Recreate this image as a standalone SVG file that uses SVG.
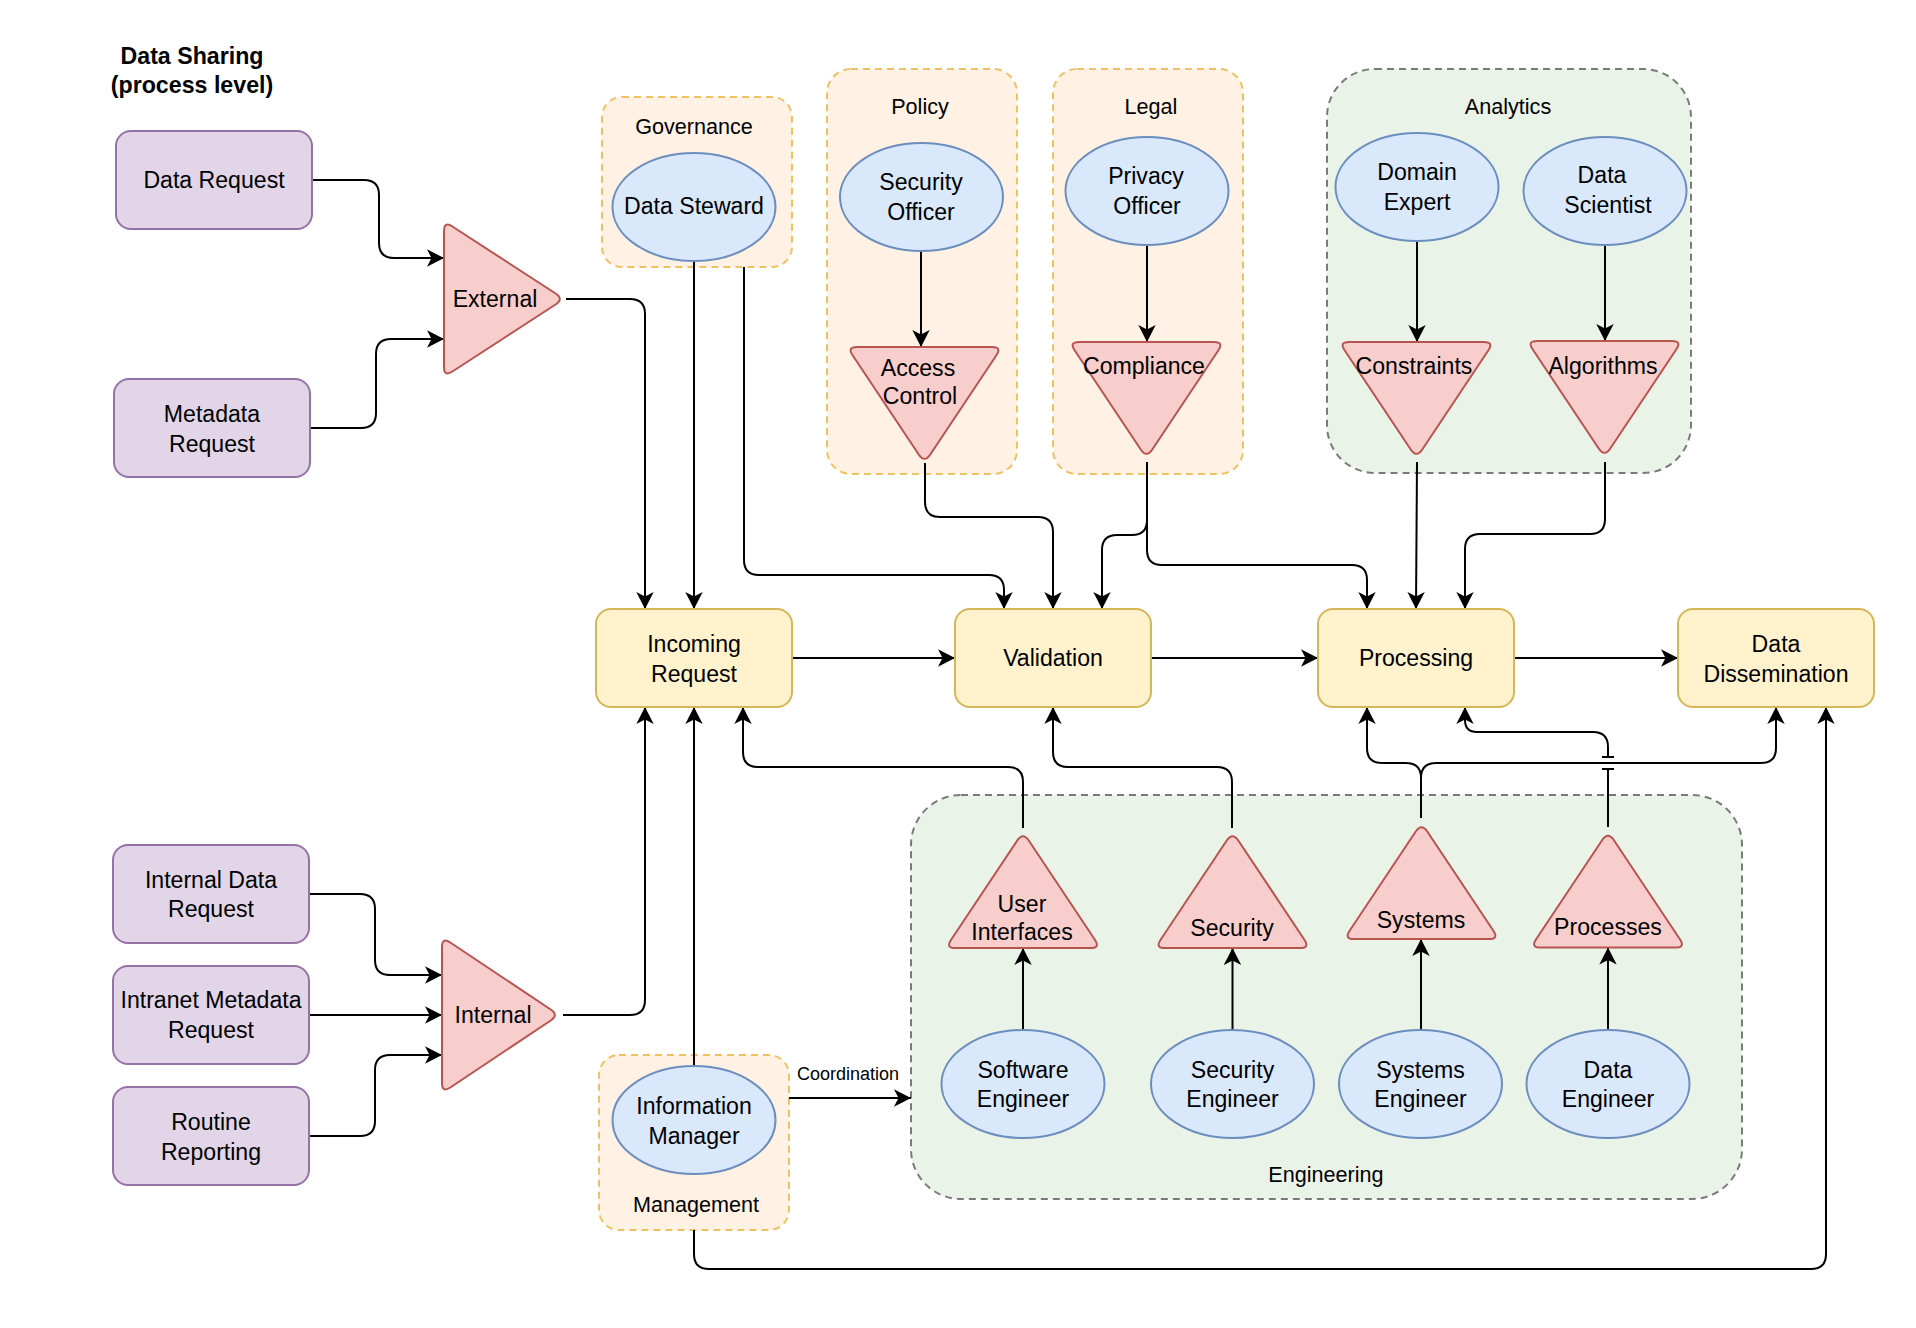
<svg xmlns="http://www.w3.org/2000/svg" width="1916" height="1328" viewBox="0 0 1916 1328">
<defs>
<marker id="arr" markerWidth="18" markerHeight="18" viewBox="0 0 18 18" refX="17" refY="9" orient="auto" markerUnits="userSpaceOnUse">
<path d="M17,9 L0,0.3 L4.5,9 L0,17.7 Z" fill="#000"/>
</marker>
<style>
text{font-family:"Liberation Sans",Arial,Helvetica,sans-serif;fill:#000;text-anchor:middle}
.t{font-size:23.1px}
.cl{font-size:21.6px}
.sm{font-size:18px}
.title{font-size:23.2px;font-weight:bold}
.purple{fill:#e1d5e7;stroke:#9673a6;stroke-width:2}
.yellow{fill:#fff2cc;stroke:#d6b656;stroke-width:2}
.red{fill:#f8cecc;stroke:#b85450;stroke-width:2}
.blue{fill:#dae8fc;stroke:#6c8ebf;stroke-width:2}
.orange{fill:#fff1e3;stroke:#eec262;stroke-width:2;stroke-dasharray:7 5}
.green{fill:#e9f3e8;stroke:#7a7a7a;stroke-width:2;stroke-dasharray:7 5}
.c path{fill:none;stroke:#000;stroke-width:2}
.c .a{marker-end:url(#arr)}
</style>
</defs>
<rect width="1916" height="1328" fill="#fff"/>

<g id="title">
<text class="title" x="192" y="64">Data Sharing</text>
<text class="title" x="192" y="93">(process level)</text>
</g>

<!-- containers -->
<g id="governance">
<rect class="orange" x="602" y="97" width="190" height="170" rx="20"/>
<text class="cl" x="694" y="134">Governance</text>
</g>
<g id="policy">
<rect class="orange" x="827" y="69" width="190" height="405" rx="24"/>
<text class="cl" x="920" y="114">Policy</text>
</g>
<g id="legal">
<rect class="orange" x="1053" y="69" width="190" height="405" rx="24"/>
<text class="cl" x="1151" y="114">Legal</text>
</g>
<g id="analytics">
<rect class="green" x="1327" y="69" width="364" height="404" rx="48"/>
<text class="cl" x="1508" y="114">Analytics</text>
</g>
<g id="engineering">
<rect class="green" x="911" y="795" width="831" height="404" rx="50"/>
<text class="cl" x="1326" y="1182">Engineering</text>
</g>
<g id="management">
<rect class="orange" x="599" y="1055" width="190" height="175" rx="20"/>
<text class="cl" x="696" y="1212">Management</text>
</g>

<!-- connectors -->
<g id="connectors" class="c">
<path class="a" d="M312,180 H364 Q379,180 379,195 V243 Q379,258 394,258 H444"/>
<path class="a" d="M310,428 H361 Q376,428 376,413 V354 Q376,339 391,339 H444"/>
<path class="a" d="M566,299 H630 Q645,299 645,314 V609"/>
<path class="a" d="M694,261 V609"/>
<path class="a" d="M744,267 V560 Q744,575 759,575 H989 Q1004,575 1004,590 V609"/>
<path class="a" d="M925,463 V502 Q925,517 940,517 H1038 Q1053,517 1053,532 V609"/>
<path class="a" d="M1147,462 V520 Q1147,535 1132,535 H1117 Q1102,535 1102,550 V609"/>
<path class="a" d="M1147,520 V550 Q1147,565 1162,565 H1352 Q1367,565 1367,580 V609"/>
<path class="a" d="M1417,462 L1416,609"/>
<path class="a" d="M1605,462 V519 Q1605,534 1590,534 H1480 Q1465,534 1465,549 V609"/>
<path class="a" d="M792,658 H955"/>
<path class="a" d="M1151,658 H1318"/>
<path class="a" d="M1514,658 H1678"/>
<path class="a" d="M563,1015 H630 Q645,1015 645,1000 V707"/>
<path class="a" d="M694,1066 V707"/>
<path class="a" d="M1023,828 V782 Q1023,767 1008,767 H758 Q743,767 743,752 V707"/>
<path class="a" d="M1232,828 V782 Q1232,767 1217,767 H1068 Q1053,767 1053,752 V707"/>
<path class="a" d="M1421,818 V778 Q1421,763 1406,763 H1382 Q1367,763 1367,748 V707"/>
<path class="a" d="M1421,778 Q1421,763 1436,763 H1761 Q1776,763 1776,748 V707"/>
<path d="M1608,827 V769 M1602,769 H1614 M1602,757 H1614"/>
<path class="a" d="M1608,757 V747 Q1608,732 1593,732 H1477 Q1465,732 1465,720 V707"/>
<path class="a" d="M789,1098 H911"/>
<path class="a" d="M694,1230 V1254 Q694,1269 709,1269 H1811 Q1826,1269 1826,1254 V707"/>
<path class="a" d="M309,894 H360 Q375,894 375,909 V960 Q375,975 390,975 H442"/>
<path class="a" d="M309,1015 H442"/>
<path class="a" d="M309,1136 H360 Q375,1136 375,1121 V1070 Q375,1055 390,1055 H442"/>
<path class="a" d="M921,251 V347"/>
<path class="a" d="M1147,245 V342"/>
<path class="a" d="M1417,241 V342"/>
<path class="a" d="M1605,245 V341"/>
<path class="a" d="M1023,1030 V948"/>
<path class="a" d="M1232.5,1030 V948"/>
<path class="a" d="M1421,1030 V939"/>
<path class="a" d="M1608,1030 V947.5"/>
</g>

<!-- source boxes -->
<g id="data-request">
<rect class="purple" x="116" y="131" width="196" height="98" rx="15"/>
<text class="t" x="214" y="188">Data Request</text>
</g>
<g id="metadata-request">
<rect class="purple" x="114" y="379" width="196" height="98" rx="15"/>
<text class="t" x="212" y="422">Metadata</text>
<text class="t" x="212" y="452">Request</text>
</g>
<g id="internal-data-request">
<rect class="purple" x="113" y="845" width="196" height="98" rx="15"/>
<text class="t" x="211" y="888">Internal Data</text>
<text class="t" x="211" y="917">Request</text>
</g>
<g id="intranet-metadata-request">
<rect class="purple" x="113" y="966" width="196" height="98" rx="15"/>
<text class="t" x="211" y="1008">Intranet Metadata</text>
<text class="t" x="211" y="1038">Request</text>
</g>
<g id="routine-reporting">
<rect class="purple" x="113" y="1087" width="196" height="98" rx="15"/>
<text class="t" x="211" y="1130">Routine</text>
<text class="t" x="211" y="1160">Reporting</text>
</g>

<g id="external">
<path class="red" d="M452.4,226.5 L555.6,293.5 Q564,299 555.6,304.5 L452.4,371.5 Q444,377 444,367 L444,231 Q444,221 452.4,226.5 Z"/>
<text class="t" x="495" y="307">External</text>
</g>
<g id="internal">
<path class="red" d="M450.3,942.5 L550.7,1009.5 Q559,1015 550.7,1020.5 L450.3,1087.5 Q442,1093 442,1083 L442,947 Q442,937 450.3,942.5 Z"/>
<text class="t" x="493" y="1023">Internal</text>
</g>

<!-- process boxes -->
<g id="incoming-request">
<rect class="yellow" x="596" y="609" width="196" height="98" rx="15"/>
<text class="t" x="694" y="652">Incoming</text>
<text class="t" x="694" y="682">Request</text>
</g>
<g id="validation">
<rect class="yellow" x="955" y="609" width="196" height="98" rx="15"/>
<text class="t" x="1053" y="666">Validation</text>
</g>
<g id="processing">
<rect class="yellow" x="1318" y="609" width="196" height="98" rx="15"/>
<text class="t" x="1416" y="666">Processing</text>
</g>
<g id="data-dissemination">
<rect class="yellow" x="1678" y="609" width="196" height="98" rx="15"/>
<text class="t" x="1776" y="652">Data</text>
<text class="t" x="1776" y="682">Dissemination</text>
</g>

<!-- roles -->
<g id="data-steward">
<ellipse class="blue" cx="694" cy="207" rx="81.5" ry="54"/>
<text class="t" x="694" y="214">Data Steward</text>
</g>
<g id="security-officer">
<ellipse class="blue" cx="921.5" cy="197" rx="81.5" ry="54"/>
<text class="t" x="921" y="190">Security</text>
<text class="t" x="921" y="220">Officer</text>
</g>
<g id="privacy-officer">
<ellipse class="blue" cx="1147" cy="191" rx="81.5" ry="54"/>
<text class="t" x="1146" y="184">Privacy</text>
<text class="t" x="1147" y="214">Officer</text>
</g>
<g id="domain-expert">
<ellipse class="blue" cx="1417" cy="187" rx="81.5" ry="54"/>
<text class="t" x="1417" y="180">Domain</text>
<text class="t" x="1417" y="210">Expert</text>
</g>
<g id="data-scientist">
<ellipse class="blue" cx="1605" cy="191" rx="81.5" ry="54"/>
<text class="t" x="1602" y="183">Data</text>
<text class="t" x="1608" y="213">Scientist</text>
</g>
<g id="information-manager">
<ellipse class="blue" cx="694" cy="1120" rx="81.5" ry="54"/>
<text class="t" x="694" y="1114">Information</text>
<text class="t" x="694" y="1144">Manager</text>
</g>
<g id="software-engineer">
<ellipse class="blue" cx="1023" cy="1084" rx="81.5" ry="54"/>
<text class="t" x="1023" y="1078">Software</text>
<text class="t" x="1023" y="1107">Engineer</text>
</g>
<g id="security-engineer">
<ellipse class="blue" cx="1232.5" cy="1084" rx="81.5" ry="54"/>
<text class="t" x="1232.5" y="1078">Security</text>
<text class="t" x="1232.5" y="1107">Engineer</text>
</g>
<g id="systems-engineer">
<ellipse class="blue" cx="1420.5" cy="1084" rx="81.5" ry="54"/>
<text class="t" x="1420.5" y="1078">Systems</text>
<text class="t" x="1420.5" y="1107">Engineer</text>
</g>
<g id="data-engineer">
<ellipse class="blue" cx="1608" cy="1084" rx="81.5" ry="54"/>
<text class="t" x="1608" y="1078">Data</text>
<text class="t" x="1608" y="1107">Engineer</text>
</g>

<!-- control triangles -->
<g id="access-control">
<path class="red" d="M857,347 L992,347 Q1002,347 996.4,355.3 L930.1,454.7 Q924.5,463 918.9,454.7 L852.6,355.3 Q847,347 857,347 Z"/>
<text class="t" x="918" y="376">Access</text>
<text class="t" x="920" y="404">Control</text>
</g>
<g id="compliance">
<path class="red" d="M1079,342 L1214,342 Q1224,342 1218.4,350.3 L1152.1,449.7 Q1146.5,458 1140.9,449.7 L1074.6,350.3 Q1069,342 1079,342 Z"/>
<text class="t" x="1144" y="374">Compliance</text>
</g>
<g id="constraints">
<path class="red" d="M1349,342 L1484,342 Q1494,342 1488.4,350.3 L1422.1,449.7 Q1416.5,458 1410.9,449.7 L1344.6,350.3 Q1339,342 1349,342 Z"/>
<text class="t" x="1414" y="374">Constraints</text>
</g>
<g id="algorithms">
<path class="red" d="M1537,341 L1672,341 Q1682,341 1676.4,349.3 L1610.1,448.7 Q1604.5,457 1598.9,448.7 L1532.6,349.3 Q1527,341 1537,341 Z"/>
<text class="t" x="1603" y="374">Algorithms</text>
</g>

<!-- engineering triangles -->
<g id="user-interfaces">
<path class="red" d="M1028.6,840.3 L1094.9,939.7 Q1100.5,948 1090.5,948 L955.5,948 Q945.5,948 951.1,939.7 L1017.4,840.3 Q1023,832 1028.6,840.3 Z"/>
<text class="t" x="1022" y="912">User</text>
<text class="t" x="1022" y="940">Interfaces</text>
</g>
<g id="security">
<path class="red" d="M1238.1,840.3 L1304.4,939.7 Q1310,948 1300,948 L1165,948 Q1155,948 1160.6,939.7 L1226.9,840.3 Q1232.5,832 1238.1,840.3 Z"/>
<text class="t" x="1232" y="936">Security</text>
</g>
<g id="systems">
<path class="red" d="M1427.1,831.3 L1493.4,930.7 Q1499,939 1489,939 L1354,939 Q1344,939 1349.6,930.7 L1415.9,831.3 Q1421.5,823 1427.1,831.3 Z"/>
<text class="t" x="1421" y="928">Systems</text>
</g>
<g id="processes">
<path class="red" d="M1613.6,839.8 L1679.9,939.2 Q1685.5,947.5 1675.5,947.5 L1540.5,947.5 Q1530.5,947.5 1536.1,939.2 L1602.4,839.8 Q1608,831.5 1613.6,839.8 Z"/>
<text class="t" x="1608" y="935">Processes</text>
</g>

<g id="coordination-label">
<text class="sm" x="848" y="1080">Coordination</text>
</g>
</svg>
